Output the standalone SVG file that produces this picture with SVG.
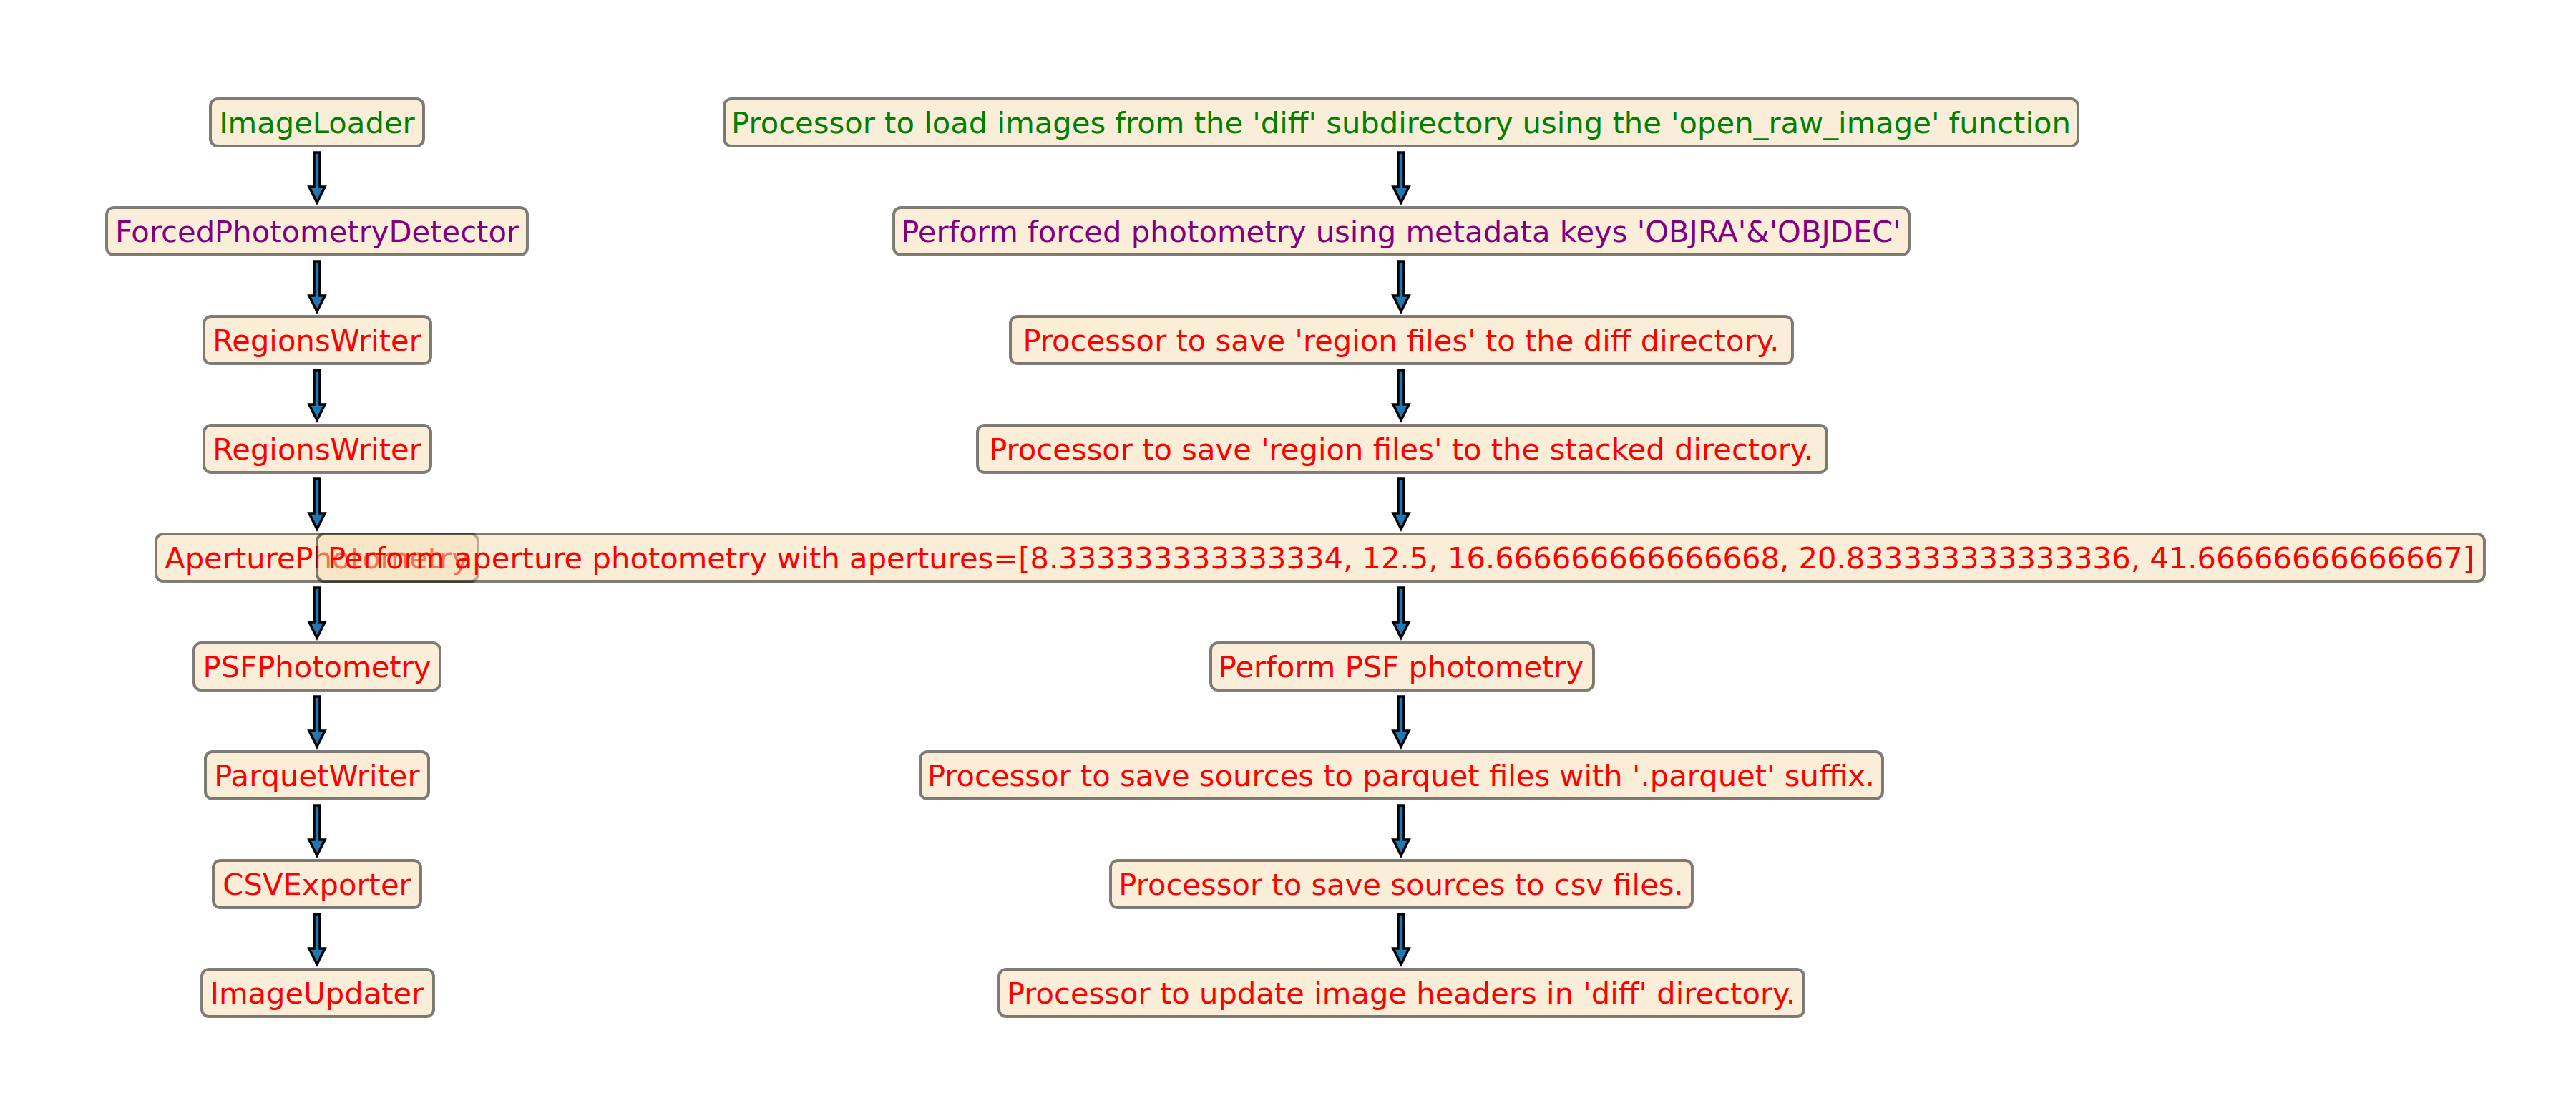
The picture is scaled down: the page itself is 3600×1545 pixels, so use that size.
<svg xmlns="http://www.w3.org/2000/svg" width="3600" height="1545" viewBox="0 0 3600 1545">
<style>
.b{fill:#f5deb3;fill-opacity:0.5;stroke:#000;stroke-opacity:0.5;stroke-width:4}
.t{font-family:"DejaVu Sans",sans-serif;font-size:41.7px;text-anchor:middle;dominant-baseline:central}
.g{fill:#008000}.p{fill:#800080}.r{fill:#ff0000}
.a{fill:#1f77b4;stroke:#000;stroke-width:3.5;stroke-linejoin:miter}
</style>
<defs>
<path id="arr" class="a" d="M-4,0 L4,0 L4,48 L11,48 L0,70 L-11,48 L-4,48 Z"/>
</defs>
<rect width="3600" height="1545" fill="#fff"/>
<g id="connectors">
<use href="#arr" x="443" y="213"/><use href="#arr" x="443" y="365"/><use href="#arr" x="443" y="517"/><use href="#arr" x="443" y="669"/><use href="#arr" x="443" y="821"/><use href="#arr" x="443" y="973"/><use href="#arr" x="443" y="1125"/><use href="#arr" x="443" y="1277"/>
<use href="#arr" x="1958" y="213"/><use href="#arr" x="1958" y="365"/><use href="#arr" x="1958" y="517"/><use href="#arr" x="1958" y="669"/><use href="#arr" x="1958" y="821"/><use href="#arr" x="1958" y="973"/><use href="#arr" x="1958" y="1125"/><use href="#arr" x="1958" y="1277"/>
</g>
<g id="n1"><rect class="b" x="294" y="138" width="298" height="66" rx="10"/><text class="t g" x="443" y="171">ImageLoader</text></g>
<g id="d1"><rect class="b" x="1012" y="138" width="1892" height="66" rx="10"/><text class="t g" x="1958" y="171">Processor to load images from the 'diff' subdirectory using the 'open_raw_image' function</text></g>
<g id="n2"><rect class="b" x="149" y="290" width="588" height="66" rx="10"/><text class="t p" x="443" y="323">ForcedPhotometryDetector</text></g>
<g id="d2"><rect class="b" x="1249" y="290" width="1419" height="66" rx="10"/><text class="t p" x="1958" y="323">Perform forced photometry using metadata keys 'OBJRA'&amp;'OBJDEC'</text></g>
<g id="n3"><rect class="b" x="285" y="442" width="317" height="66" rx="10"/><text class="t r" x="443" y="475">RegionsWriter</text></g>
<g id="d3"><rect class="b" x="1412" y="442" width="1093" height="66" rx="10"/><text class="t r" x="1958" y="475">Processor to save 'region files' to the diff directory.</text></g>
<g id="n4"><rect class="b" x="285" y="594" width="317" height="66" rx="10"/><text class="t r" x="443" y="627">RegionsWriter</text></g>
<g id="d4"><rect class="b" x="1366" y="594" width="1187" height="66" rx="10"/><text class="t r" x="1958" y="627">Processor to save 'region files' to the stacked directory.</text></g>
<g id="n5"><rect class="b" x="218" y="746" width="450" height="66" rx="10"/><text class="t r" x="443" y="779">AperturePhotometry</text></g>
<g id="d5"><rect class="b" x="443" y="746" width="3029" height="66" rx="10"/><text class="t r" x="1958" y="779">Perform aperture photometry with apertures=[8.333333333333334, 12.5, 16.666666666666668, 20.833333333333336, 41.66666666666667]</text></g>
<g id="n6"><rect class="b" x="271" y="898" width="344" height="66" rx="10"/><text class="t r" x="443" y="931">PSFPhotometry</text></g>
<g id="d6"><rect class="b" x="1692" y="898" width="535" height="66" rx="10"/><text class="t r" x="1958" y="931">Perform PSF photometry</text></g>
<g id="n7"><rect class="b" x="287" y="1050" width="312" height="66" rx="10"/><text class="t r" x="443" y="1083">ParquetWriter</text></g>
<g id="d7"><rect class="b" x="1286" y="1050" width="1345" height="66" rx="10"/><text class="t r" x="1958" y="1083">Processor to save sources to parquet files with '.parquet' suffix.</text></g>
<g id="n8"><rect class="b" x="298" y="1202" width="290" height="66" rx="10"/><text class="t r" x="443" y="1235">CSVExporter</text></g>
<g id="d8"><rect class="b" x="1552" y="1202" width="813" height="66" rx="10"/><text class="t r" x="1958" y="1235">Processor to save sources to csv files.</text></g>
<g id="n9"><rect class="b" x="282" y="1354" width="324" height="66" rx="10"/><text class="t r" x="443" y="1387">ImageUpdater</text></g>
<g id="d9"><rect class="b" x="1396" y="1354" width="1125" height="66" rx="10"/><text class="t r" x="1958" y="1387">Processor to update image headers in 'diff' directory.</text></g>
</svg>
